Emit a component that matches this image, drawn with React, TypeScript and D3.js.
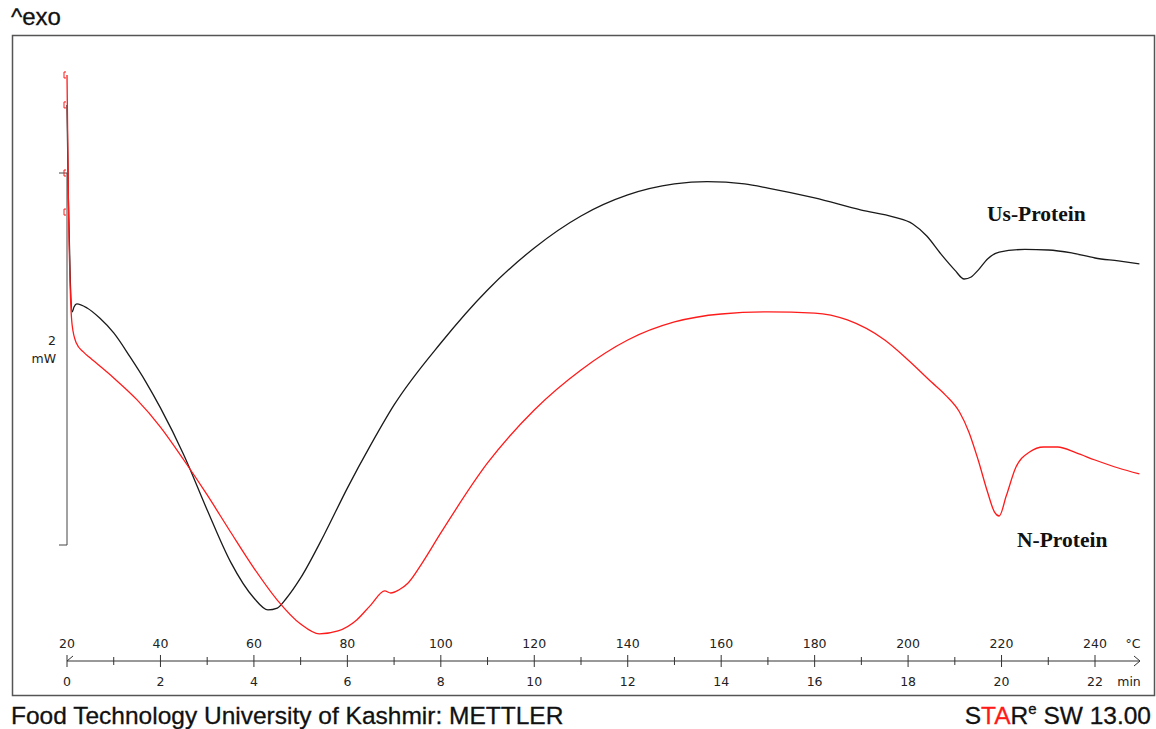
import React from "react";
import * as d3 from "d3";

// Temperature (°C) vs heat flow (mW, relative)
const usProteinT = [20.0, 20.3, 20.7, 21.1, 21.5, 22.1, 24.3, 27, 30, 33.5, 36.8, 40, 45, 50, 55, 60, 63, 65, 67, 70, 75, 80, 85, 90, 100, 110, 120, 130, 140, 150, 157, 165, 170, 180, 190, 197, 201, 204, 207, 210, 212, 213.5, 215, 217, 219.5, 225, 230, 235, 240, 245, 249.5];
const usProteinV = [2.366, 1.855, 1.425, 1.253, 1.28, 1.296, 1.274, 1.22, 1.14, 1.011, 0.88, 0.737, 0.484, 0.188, -0.091, -0.285, -0.349, -0.339, -0.285, -0.177, 0.054, 0.306, 0.538, 0.753, 1.086, 1.371, 1.597, 1.769, 1.882, 1.941, 1.954, 1.941, 1.919, 1.866, 1.801, 1.763, 1.726, 1.661, 1.565, 1.478, 1.43, 1.441, 1.478, 1.538, 1.575, 1.589, 1.586, 1.57, 1.543, 1.527, 1.511];

const nProteinT = [20.0, 20.3, 20.7, 21.1, 22, 23.5, 25, 30, 35, 40, 45, 50, 55, 60, 65, 70, 74, 78, 82, 85, 88, 89.3, 91, 93, 96, 100, 110, 120, 130, 140, 150, 160, 170, 180, 187, 195, 200, 205, 208, 211, 213, 215, 217, 218.5, 219.5, 221, 223, 226, 229, 232, 236, 240, 245, 249.5];
const nProteinV = [2.527, 1.855, 1.371, 1.183, 1.086, 1.038, 1.005, 0.898, 0.78, 0.634, 0.457, 0.269, 0.07, -0.124, -0.296, -0.425, -0.478, -0.462, -0.403, -0.323, -0.247, -0.258, -0.242, -0.204, -0.097, 0.065, 0.441, 0.726, 0.941, 1.102, 1.199, 1.242, 1.253, 1.247, 1.21, 1.102, 0.995, 0.876, 0.806, 0.715, 0.608, 0.457, 0.285, 0.177, 0.156, 0.263, 0.414, 0.5, 0.527, 0.527, 0.495, 0.457, 0.414, 0.382];

// start markers on N-Protein (mW)
const markerV = [2.527, 2.366, 2.0, 1.79];

const tempTicks = [20, 40, 60, 80, 100, 120, 140, 160, 180, 200, 220, 240];
const minorTempTicks = [30, 50, 70, 90, 110, 130, 150, 170, 190, 210, 230];
const minTicks = [0, 2, 4, 6, 8, 10, 12, 14, 16, 18, 20, 22];

const scaleBar = [0, 2]; // 2 mW

export default function App() {
  const x = d3.scaleLinear().domain([20, 240]).range([67, 1095]);
  const xMin = d3.scaleLinear().domain([0, 22]).range([67, 1095]);
  const y = d3.scaleLinear().domain([0, 2]).range([545, 173]);

  const line = d3
    .line<[number, number]>()
    .x((d) => x(d[0]))
    .y((d) => y(d[1]))
    .curve(d3.curveMonotoneX);

  const usData = usProteinT.map((t, i) => [t, usProteinV[i]] as [number, number]);
  const nData = nProteinT.map((t, i) => [t, nProteinV[i]] as [number, number]);

  const axisY = 661;
  const axisColor = "#333";
  const tickFont = "DejaVu Sans, Verdana, sans-serif";
  const sans = "Liberation Sans, Arial, sans-serif";
  const serif = "Liberation Serif, Times New Roman, serif";

  return (
    <div style={{ position: "absolute", left: 0, top: 0 }}>
      <svg width={1156} height={729} style={{ display: "block", background: "#fff" }}>
        <text x={11} y={25} fontFamily={sans} fontSize={24} fill="#111" stroke="#111" strokeWidth={0.3}>
          ^exo
        </text>
        <rect x={12.5} y={35.5} width={1142} height={660} fill="none" stroke="#555" strokeWidth={1.5} />

        {/* scale bar */}
        <line x1={67} x2={67} y1={y(scaleBar[1])} y2={y(scaleBar[0])} stroke="#444" strokeWidth={1} />
        <line x1={59} x2={67} y1={y(scaleBar[1])} y2={y(scaleBar[1])} stroke="#444" strokeWidth={1} />
        <line x1={59} x2={67} y1={y(scaleBar[0])} y2={y(scaleBar[0])} stroke="#444" strokeWidth={1} />
        <text x={56} y={345} textAnchor="end" fontFamily={tickFont} fontSize={12.5} fill="#222">2</text>
        <text x={56} y={363} textAnchor="end" fontFamily={tickFont} fontSize={12.5} fill="#222">mW</text>

        {/* curves */}
        <path d={line(usData) || ""} fill="none" stroke="#1a1a1a" strokeWidth={1.3} />
        <path d={line(nData) || ""} fill="none" stroke="#ff1a1a" strokeWidth={1.3} />
        {markerV.map((v, i) => (
          <path
            key={i}
            d={`M${x(20) - 1},${y(v) - 3} L${x(20) - 3},${y(v) - 3} L${x(20) - 3},${y(v) + 3} L${x(20) - 1},${y(v) + 3}`}
            fill="none"
            stroke="#ff1a1a"
            strokeWidth={1}
          />
        ))}

        {/* x axis */}
        <line x1={67} x2={1140} y1={axisY} y2={axisY} stroke={axisColor} strokeWidth={1} />
        <path d={`M1134,${axisY - 5} L1140,${axisY} L1134,${axisY + 5}`} fill="none" stroke={axisColor} strokeWidth={1} />
        <path d={`M67,${axisY} L73,${axisY - 5}`} fill="none" stroke={axisColor} strokeWidth={1} />
        {tempTicks.map((t) => (
          <g key={t}>
            <line x1={x(t)} x2={x(t)} y1={axisY - 6} y2={axisY + 6} stroke={axisColor} strokeWidth={1} />
            <text x={x(t)} y={648} textAnchor="middle" fontFamily={tickFont} fontSize={12.5} fill="#222">
              {t}
            </text>
          </g>
        ))}
        {minorTempTicks.map((t) => (
          <line key={t} x1={x(t)} x2={x(t)} y1={axisY - 4} y2={axisY + 4} stroke={axisColor} strokeWidth={1} />
        ))}
        {minTicks.map((m) => (
          <text key={m} x={xMin(m)} y={686} textAnchor="middle" fontFamily={tickFont} fontSize={12.5} fill="#222">
            {m}
          </text>
        ))}
        <text x={1133} y={648} textAnchor="middle" fontFamily={tickFont} fontSize={12.5} fill="#222">°C</text>
        <text x={1129} y={686} textAnchor="middle" fontFamily={tickFont} fontSize={12.5} fill="#222">min</text>

        {/* labels */}
        <text x={987} y={221} fontFamily={serif} fontWeight="bold" fontSize={21.5} fill="#111">
          Us-Protein
        </text>
        <text x={1017} y={547} fontFamily={serif} fontWeight="bold" fontSize={21.5} fill="#111">
          N-Protein
        </text>

        {/* footer */}
        <text x={11} y={724} fontFamily={sans} fontSize={24.5} fill="#111" stroke="#111" strokeWidth={0.3}>
          Food Technology University of Kashmir: METTLER
        </text>
        <text x={1151} y={724} textAnchor="end" fontFamily={sans} fontSize={24.5} fill="#111" stroke="#111" strokeWidth={0.3}>
          S<tspan fill="#ff1a1a" stroke="#ff1a1a">TA</tspan>R<tspan fontSize={15} dy={-10}>e</tspan>
          <tspan dy={10}> SW 13.00</tspan>
        </text>
      </svg>
    </div>
  );
}
